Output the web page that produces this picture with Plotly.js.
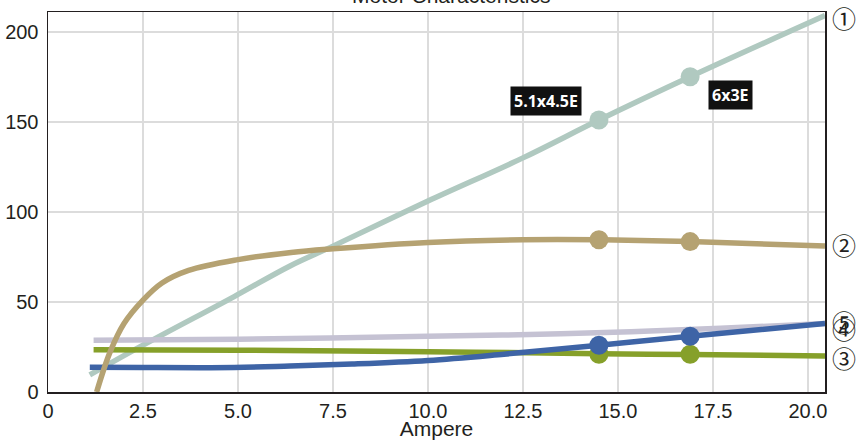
<!DOCTYPE html>
<html><head><meta charset="utf-8">
<script src="https://cdn.plot.ly/plotly-3.0.1.min.js"></script>
<style>html,body{margin:0;padding:0;background:#fff}#chart{width:857px;height:440px}</style>
</head><body><div id="chart"></div>
<script>
// Series data (Ampere on x)
const s1x = [1.1, 2.5, 4.9, 6.37, 7.5, 10, 12.5, 14.5, 16.9, 20.45];
const s1y = [9.5, 26, 53, 70, 81, 106, 130, 151, 175, 209];
const s2x = [1.28, 1.63, 2.0, 2.5, 3.0, 3.7, 5.0, 6.4, 7.5, 10, 12.5, 14.5, 16.9, 20.45];
const s2y = [0, 22, 38, 51, 60.5, 67.5, 73.5, 77.5, 79.5, 83, 84.5, 84.5, 83.5, 81];
const s3x = [1.2, 5, 10, 14.5, 16.9, 20.45];
const s3y = [23.5, 23.2, 22.4, 21.3, 20.8, 20];
const s4x = [1.1, 2.5, 4.9, 6.37, 8, 10, 12, 14.5, 16.9, 20.45];
const s4y = [13.8, 13.6, 13.6, 14.4, 15.5, 17.5, 21, 26, 31, 38];
const s5x = [1.2, 5, 10, 13.5, 17.7, 20.45];
const s5y = [28.8, 29.3, 31, 32.3, 35.4, 38];
// marker points
const mx = [14.5, 16.9];
const m1 = [151, 175];
const m2 = [84.5, 83.5];
const m3 = [21, 21];
const m4 = [26, 31];
// labels
const pointLabels = ["5.1x4.5E", "6x3E"];
const seriesTags = ["①", "②", "③", "④", "⑤"];
const xTickVals = [0, 2.5, 5, 7.5, 10, 12.5, 15, 17.5, 20];
const xTickText = ["0", "2.5", "5.0", "7.5", "10.0", "12.5", "15.0", "17.5", "20.0"];
const yTickVals = [0, 50, 100, 150, 200];
const titleText = "Motor Characteristics";
const xTitle = "Ampere";

const c1 = "#b0c9c0", c2 = "#b5a272", c3 = "#86a02a", c4 = "#3e64a6", c5 = "#c5c2d3";
const W = 5.5;
function line(x, y, c) {
  return {x: x, y: y, mode: "lines", type: "scatter", line: {color: c, width: W, shape: "spline", smoothing: 1}, hoverinfo: "skip", showlegend: false};
}
function marks(y, c) {
  return {x: mx, y: y, mode: "markers", type: "scatter", marker: {color: c, size: 19}, hoverinfo: "skip", showlegend: false};
}
const data = [
  line(s1x, s1y, c1), marks(m1, c1),
  line(s5x, s5y, c5),
  line(s3x, s3y, c3), marks(m3, c3),
  line(s4x, s4y, c4), marks(m4, c4),
  line(s2x, s2y, c2), marks(m2, c2)
];
const ends = [s1y, s2y, s3y, s4y, s5y].map(a => a[a.length - 1]);
const tagShift = [-2, 2, -2, -5, 2];
const annotations = seriesTags.map((t, i) => ({
  xref: "paper", yref: "y", x: 1, y: ends[i], xanchor: "left", yanchor: "middle",
  xshift: 5, yshift: tagShift[i], text: t, showarrow: false,
  font: {family: "Noto Sans CJK JP, DejaVu Sans", size: 24, color: "#231f20"}
}));
annotations.push({
  xref: "x", yref: "y", x: mx[0], y: m1[0], xshift: -53, yshift: 19, text: "<b>" + pointLabels[0] + "</b>",
  showarrow: false, bgcolor: "#111111", borderpad: 3,
  font: {family: "Open Sans", size: 16, color: "#ffffff"}
});
annotations.push({
  xref: "x", yref: "y", x: mx[1], y: m1[1], xshift: 40, yshift: -18, text: "<b>" + pointLabels[1] + "</b>",
  showarrow: false, bgcolor: "#111111", borderpad: 3,
  font: {family: "Open Sans", size: 16, color: "#ffffff"}
});
annotations.push({
  xref: "paper", yref: "paper", x: 0.519, y: 1, xanchor: "center", yanchor: "bottom", yshift: 3,
  text: titleText, showarrow: false,
  font: {family: "Liberation Sans, Arial", size: 21, color: "#231f20"}
});
const axisFont = {family: "Liberation Sans, Arial", size: 20, color: "#231f20"};
const layout = {
  width: 857, height: 440,
  margin: {l: 48, r: 32, t: 12, b: 48},
  paper_bgcolor: "#ffffff", plot_bgcolor: "#ffffff",
  showlegend: false,
  xaxis: {
    range: [0, 20.45], tickvals: xTickVals, ticktext: xTickText, tickfont: axisFont,
    showgrid: true, gridcolor: "#dcdcdc", gridwidth: 1.5, zeroline: false,
    showline: true, mirror: true, linecolor: "#231f20", linewidth: 1.5, ticks: "",
    title: {text: xTitle, font: {family: "Liberation Sans, Arial", size: 21, color: "#231f20"}, standoff: 4}
  },
  yaxis: {
    range: [0, 211], tickvals: yTickVals, tickfont: axisFont,
    showgrid: true, gridcolor: "#dcdcdc", gridwidth: 1.5, zeroline: false,
    showline: true, mirror: true, linecolor: "#231f20", linewidth: 1.5, ticks: "outside", ticklen: 0, ticklabelstandoff: 4
  },
  annotations: annotations
};
Plotly.newPlot("chart", data, layout, {staticPlot: true, displayModeBar: false});
</script></body></html>
